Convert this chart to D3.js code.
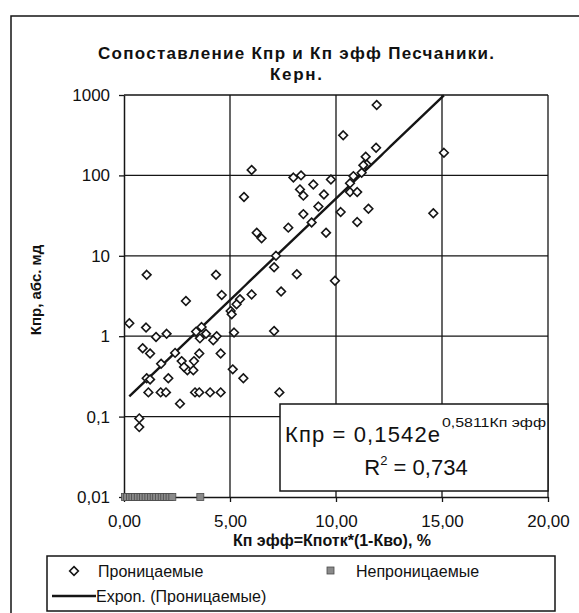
<!DOCTYPE html>
<html>
<head>
<meta charset="utf-8">
<script src="https://cdn.jsdelivr.net/npm/d3@7"></script>
<style>
  html, body { margin: 0; padding: 0; background: #fff; }
  svg text { font-family: "Liberation Sans", Arial, sans-serif; fill: #111; }
</style>
</head>
<body>
<svg id="chart" width="579" height="613"></svg>
<script>
// Permeable samples (core): effective porosity, % and permeability, mD
const permX = [11.92, 10.34, 15.09, 11.89, 11.40, 11.45, 11.29, 11.21, 10.82, 6.02,
  5.66, 7.99, 8.35, 8.93, 9.76, 8.30, 8.46, 9.43, 9.17, 8.46,
  8.85, 7.75, 6.26, 6.49, 9.53, 10.22, 10.66, 10.66, 11.00, 11.53,
  11.00, 14.59, 7.17, 7.08, 8.15, 9.95, 1.07, 4.34,
  2.92, 4.61, 6.02, 7.41, 5.47, 5.31, 5.03, 5.08, 0.25, 1.04,
  1.51, 2.01, 3.40, 3.66, 3.87, 4.37, 4.21, 3.58, 5.19, 7.08,
  0.88, 1.23, 2.41, 3.55, 4.56, 1.75, 2.72, 3.30, 2.99, 3.27,
  2.83, 5.13, 5.63, 1.07, 1.23, 2.09, 1.15, 1.73, 1.98, 3.35,
  3.55, 4.06, 4.56, 2.64, 7.33, 0.72, 0.72];
const permY = [752, 315, 191, 221, 171, 137, 134, 108, 98, 117,
  54, 94, 100, 77, 89, 67, 56, 58, 41, 33,
  26, 22.4, 19.4, 16.5, 19.4, 35, 80, 62, 62, 38.5,
  26.3, 33.8, 10, 7.2, 5.9, 4.9, 5.8, 5.8,
  2.74, 3.25, 3.3, 3.6, 2.88, 2.5, 2.06, 1.87, 1.45, 1.28,
  0.98, 1.07, 1.14, 1.30, 1.07, 1.0, 0.89, 0.94, 1.11, 1.16,
  0.71, 0.61, 0.62, 0.61, 0.61, 0.455, 0.49, 0.49, 0.377, 0.377,
  0.414, 0.387, 0.30, 0.30, 0.29, 0.30, 0.2, 0.2, 0.2, 0.2,
  0.2, 0.2, 0.2, 0.145, 0.2, 0.095, 0.074];

// Impermeable samples, plotted at the bottom of the log axis
const imperX = [0.05, 0.15, 0.28, 0.4, 0.52, 0.65, 0.78, 0.9, 1.02, 1.15,
  1.28, 1.4, 1.52, 1.65, 1.78, 1.9, 2.02, 2.15, 2.28, 3.6];
const imperY = imperX.map(() => 0.01);

// Exponential trend of the permeable series
const trendA = 0.1542;
const trendB = 0.5811;
const trendR2 = "0,734";

const xTicks = [0, 5, 10, 15, 20];
const xTickLabels = ["0,00", "5,00", "10,00", "15,00", "20,00"];
const yTicks = [0.01, 0.1, 1, 10, 100, 1000];
const yTickLabels = ["0,01", "0,1", "1", "10", "100", "1000"];

const titleLines = ["Сопоставление Кпр и Кп эфф Песчаники.", "Керн."];
const xTitle = "Кп эфф=Кпотк*(1-Кво), %";
const yTitle = "Кпр, абс. мд";
const legendPerm = "Проницаемые";
const legendImper = "Непроницаемые";
const legendTrend = "Expon. (Проницаемые)";

const svg = d3.select("#chart");
const ink = "#151515";

// outer chart frame
svg.append("rect").attr("x", 11).attr("y", 16).attr("width", 620).attr("height", 640)
  .attr("fill", "none").attr("stroke", ink).attr("stroke-width", 1.5);

const L = 124, R = 548, T = 95, B = 497;
const x = d3.scaleLinear().domain([0, 20]).range([L, R]);
const y = d3.scaleLog().domain([0.01, 1000]).range([B, T]);

// title
svg.append("g").selectAll("text").data(titleLines).join("text")
  .attr("x", 296).attr("y", (d, i) => 59 + i * 21)
  .attr("text-anchor", "middle").attr("font-size", 17).attr("font-weight", "bold")
  .attr("textLength", (d, i) => i === 0 ? 396 : 52).attr("lengthAdjust", "spacing")
  .text(d => d);

// grid
const grid = svg.append("g").attr("stroke", ink).attr("stroke-width", 1.3);
grid.selectAll("line.h").data(yTicks.slice(1)).join("line").attr("class", "h")
  .attr("x1", L).attr("x2", R).attr("y1", d => y(d)).attr("y2", d => y(d));
grid.selectAll("line.v").data(xTicks.slice(1)).join("line").attr("class", "v")
  .attr("x1", d => x(d)).attr("x2", d => x(d)).attr("y1", T).attr("y2", B);

// axes
const xAxis = d3.axisBottom(x).tickValues(xTicks).tickSize(5).tickSizeOuter(0)
  .tickFormat((d, i) => xTickLabels[i]);
const gx = svg.append("g").attr("transform", `translate(0,${B})`).call(xAxis);
const yAxis = d3.axisLeft(y).tickValues(yTicks).tickSize(5).tickSizeOuter(0)
  .tickFormat((d, i) => yTickLabels[i]);
const gy = svg.append("g").attr("transform", `translate(${L},0)`).call(yAxis);
[gx, gy].forEach(g => {
  g.select(".domain").attr("stroke", ink).attr("stroke-width", 1.5);
  g.selectAll(".tick line").attr("stroke", ink).attr("stroke-width", 1.3);
  g.selectAll(".tick text").attr("font-size", 17).attr("fill", "#111")
    .attr("font-family", "'Liberation Sans', Arial, sans-serif");
});
gx.selectAll(".tick text").attr("dy", "1.3em");
gy.selectAll(".tick text").attr("dx", "-0.35em");

// axis titles
svg.append("text").attr("x", (L + R) / 2 - 4).attr("y", 546).attr("text-anchor", "middle")
  .attr("font-size", 16).attr("font-weight", "bold").text(xTitle);
svg.append("text").attr("transform", "translate(41,290) rotate(-90)")
  .attr("text-anchor", "middle").attr("font-size", 15).attr("font-weight", "bold").text(yTitle);

// trend line over the range of the permeable series
const [xmin, xmax] = d3.extent(permX);
const trendPts = d3.range(0, 101).map(i => {
  const xv = xmin + (xmax - xmin) * i / 100;
  return [xv, trendA * Math.exp(trendB * xv)];
});
svg.append("path").datum(trendPts)
  .attr("d", d3.line().x(d => x(d[0])).y(d => y(d[1])))
  .attr("fill", "none").attr("stroke", ink).attr("stroke-width", 2.4);

// markers
const diamond = d3.symbol().type(d3.symbolDiamond2).size(48);
svg.append("g").selectAll("path").data(d3.range(permX.length)).join("path")
  .attr("transform", i => `translate(${x(permX[i])},${y(permY[i])})`)
  .attr("d", diamond).attr("fill", "#fff").attr("stroke", ink).attr("stroke-width", 1.6);

svg.append("g").selectAll("rect").data(d3.range(imperX.length)).join("rect")
  .attr("x", i => x(imperX[i]) - 3.5).attr("y", i => y(imperY[i]) - 3.5)
  .attr("width", 7).attr("height", 7)
  .attr("fill", "#8a8a8a").attr("stroke", "#4a4a4a").attr("stroke-width", 0.8);

// equation box
const eq = svg.append("g");
eq.append("rect").attr("x", 280).attr("y", 404).attr("width", 268).attr("height", 87)
  .attr("fill", "#fff").attr("stroke", ink).attr("stroke-width", 1.5);
eq.append("text").attr("x", 285).attr("y", 442).attr("font-size", 22)
  .attr("textLength", 155).attr("lengthAdjust", "spacing")
  .text("Кпр = " + String(trendA).replace(".", ",") + "e");
eq.append("text").attr("x", 442).attr("y", 427).attr("font-size", 13)
  .attr("textLength", 104).attr("lengthAdjust", "spacingAndGlyphs")
  .text(String(trendB).replace(".", ",") + "Кп эфф");
const r2 = eq.append("text").attr("x", 416).attr("y", 475).attr("text-anchor", "middle")
  .attr("font-size", 22);
r2.append("tspan").text("R");
r2.append("tspan").attr("font-size", 13).attr("dy", -10).text("2");
r2.append("tspan").attr("dy", 10).text(" = " + trendR2);

// legend
const lg = svg.append("g");
lg.append("rect").attr("x", 47).attr("y", 556).attr("width", 508).attr("height", 55)
  .attr("fill", "#fff").attr("stroke", ink).attr("stroke-width", 1.5);
lg.append("path").attr("transform", "translate(74,571)").attr("d", diamond)
  .attr("fill", "#fff").attr("stroke", ink).attr("stroke-width", 1.6);
lg.append("text").attr("x", 98).attr("y", 577).attr("font-size", 16).text(legendPerm);
lg.append("rect").attr("x", 327).attr("y", 567).attr("width", 7).attr("height", 7)
  .attr("fill", "#8a8a8a").attr("stroke", "#4a4a4a").attr("stroke-width", 0.8);
lg.append("text").attr("x", 356).attr("y", 577).attr("font-size", 16).text(legendImper);
lg.append("line").attr("x1", 52).attr("x2", 96).attr("y1", 596).attr("y2", 596)
  .attr("stroke", ink).attr("stroke-width", 2.4);
lg.append("text").attr("x", 96).attr("y", 602).attr("font-size", 16).text(legendTrend);
</script>
</body>
</html>
